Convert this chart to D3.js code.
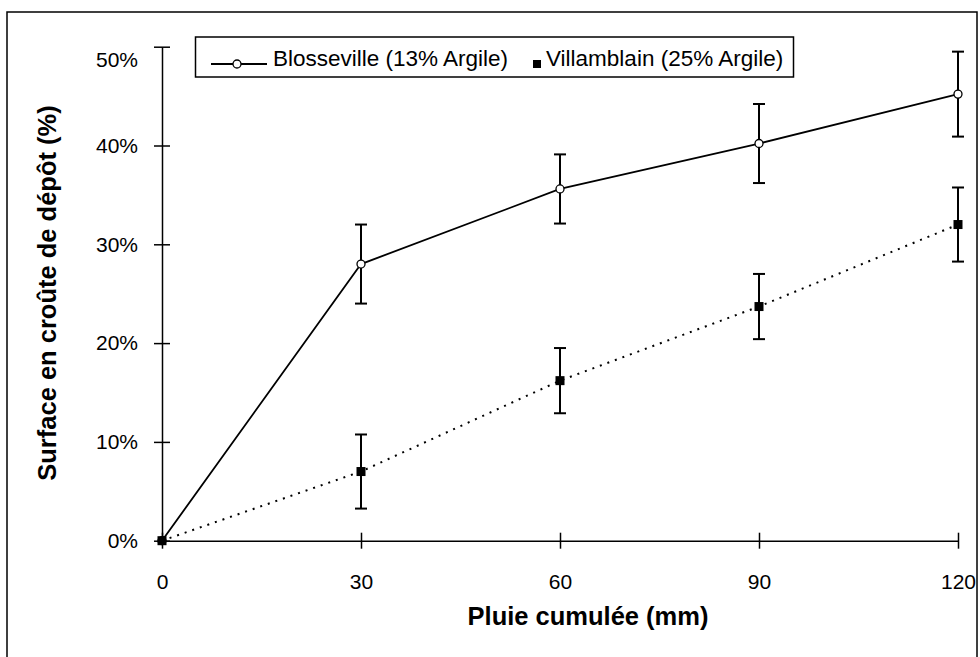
<!DOCTYPE html>
<html>
<head>
<meta charset="utf-8">
<script src="https://cdn.jsdelivr.net/npm/d3@7"></script>
<style>
  body { margin: 0; background: #fff; }
  svg { font-family: "Liberation Sans", Arial, sans-serif; }
</style>
</head>
<body>
<svg width="980" height="657"></svg>
<script>
// rainfall (mm) and crust cover (%)
var pluie = [0, 30, 60, 90, 120];
var blosseville = [0, 28, 35.6, 40.2, 45.2];
var blossevilleErr = [0, 4, 3.5, 4, 4.3];
var villamblain = [0, 7, 16.2, 23.7, 32];
var villamblainErr = [0, 3.75, 3.3, 3.3, 3.75];
var xTicks = [0, 30, 60, 90, 120];
var yTicks = [0, 10, 20, 30, 40, 50];

var svg = d3.select("svg");

// outer frame
svg.append("rect")
  .attr("x", 7).attr("y", 12)
  .attr("width", 970).attr("height", 660)
  .attr("fill", "none").attr("stroke", "#000").attr("stroke-width", 1.5);

var x = d3.scaleLinear().domain([0, 120]).range([162, 958]);
var y = d3.scaleLinear().domain([0, 50]).range([540.7, 46.7]);

var yAxis = svg.append("g")
  .attr("transform", "translate(162,0)")
  .call(d3.axisLeft(y).tickValues(yTicks).tickSizeInner(8).tickSizeOuter(0)
    .tickPadding(16).tickFormat(d => d + "%"));
yAxis.selectAll(".tick line").attr("x1", 8);
yAxis.selectAll(".tick text").filter(d => d === 50).attr("dy", "0.95em");

var xAxis = svg.append("g")
  .attr("transform", "translate(0,540.7)")
  .call(d3.axisBottom(x).tickValues(xTicks).tickSizeInner(8).tickSizeOuter(0)
    .tickPadding(25));
xAxis.selectAll(".tick line").attr("y1", -8);

svg.selectAll(".domain, .tick line").attr("stroke", "#000").attr("stroke-width", 1.5);
svg.selectAll(".tick text")
  .attr("font-family", "Liberation Sans, Arial, sans-serif")
  .attr("font-size", 21).attr("fill", "#000");

// axis titles
svg.append("text")
  .attr("x", 588).attr("y", 625)
  .attr("text-anchor", "middle")
  .attr("font-size", 25.5).attr("font-weight", "bold")
  .text("Pluie cumulée (mm)");

svg.append("text")
  .attr("transform", "translate(47,293) rotate(-90)")
  .attr("text-anchor", "middle").attr("dy", "0.35em")
  .attr("font-size", 25.5).attr("font-weight", "bold")
  .text("Surface en croûte de dépôt (%)");

var rowsB = pluie.map((p, i) => ({ x: p, y: blosseville[i], e: blossevilleErr[i] }));
var rowsV = pluie.map((p, i) => ({ x: p, y: villamblain[i], e: villamblainErr[i] }));

var line = d3.line().x(d => x(d.x)).y(d => y(d.y));

// error bars
function errorBars(rows) {
  var g = svg.append("g").attr("stroke", "#000").attr("stroke-width", 2);
  var r = rows.filter(d => d.e > 0);
  g.selectAll(".v").data(r).enter().append("line")
    .attr("x1", d => x(d.x)).attr("x2", d => x(d.x))
    .attr("y1", d => y(d.y + d.e)).attr("y2", d => y(d.y - d.e));
  g.selectAll(".t").data(r).enter().append("line")
    .attr("x1", d => x(d.x) - 6).attr("x2", d => x(d.x) + 6)
    .attr("y1", d => y(d.y + d.e)).attr("y2", d => y(d.y + d.e));
  g.selectAll(".b").data(r).enter().append("line")
    .attr("x1", d => x(d.x) - 6).attr("x2", d => x(d.x) + 6)
    .attr("y1", d => y(d.y - d.e)).attr("y2", d => y(d.y - d.e));
}
errorBars(rowsB);
errorBars(rowsV);

svg.append("path").datum(rowsB)
  .attr("fill", "none").attr("stroke", "#000").attr("stroke-width", 1.8)
  .attr("d", line);

svg.append("path").datum(rowsV)
  .attr("fill", "none").attr("stroke", "#000").attr("stroke-width", 2)
  .attr("stroke-dasharray", "2,6")
  .attr("d", line);

svg.selectAll(".circ").data(rowsB).enter().append("circle")
  .attr("cx", d => x(d.x)).attr("cy", d => y(d.y)).attr("r", 4)
  .attr("fill", "#fff").attr("stroke", "#000").attr("stroke-width", 1.3);

svg.selectAll(".sq").data(rowsV).enter().append("rect")
  .attr("x", d => x(d.x) - 4.5).attr("y", d => y(d.y) - 4.5)
  .attr("width", 9).attr("height", 9).attr("fill", "#000");

// legend
var leg = svg.append("g");
leg.append("rect")
  .attr("x", 195.5).attr("y", 37).attr("width", 598).attr("height", 40)
  .attr("fill", "#fff").attr("stroke", "#000").attr("stroke-width", 1.5);
leg.append("line")
  .attr("x1", 211).attr("x2", 267).attr("y1", 64).attr("y2", 64)
  .attr("stroke", "#000").attr("stroke-width", 1.8);
leg.append("circle")
  .attr("cx", 237).attr("cy", 64).attr("r", 4)
  .attr("fill", "#fff").attr("stroke", "#000").attr("stroke-width", 1.3);
leg.append("text")
  .attr("x", 273).attr("y", 65.5).attr("font-size", 22.5)
  .text("Blosseville (13% Argile)");
leg.append("rect")
  .attr("x", 533).attr("y", 60).attr("width", 8).attr("height", 8)
  .attr("fill", "#000");
leg.append("text")
  .attr("x", 546).attr("y", 65.5).attr("font-size", 22.5)
  .text("Villamblain (25% Argile)");
</script>
</body>
</html>
